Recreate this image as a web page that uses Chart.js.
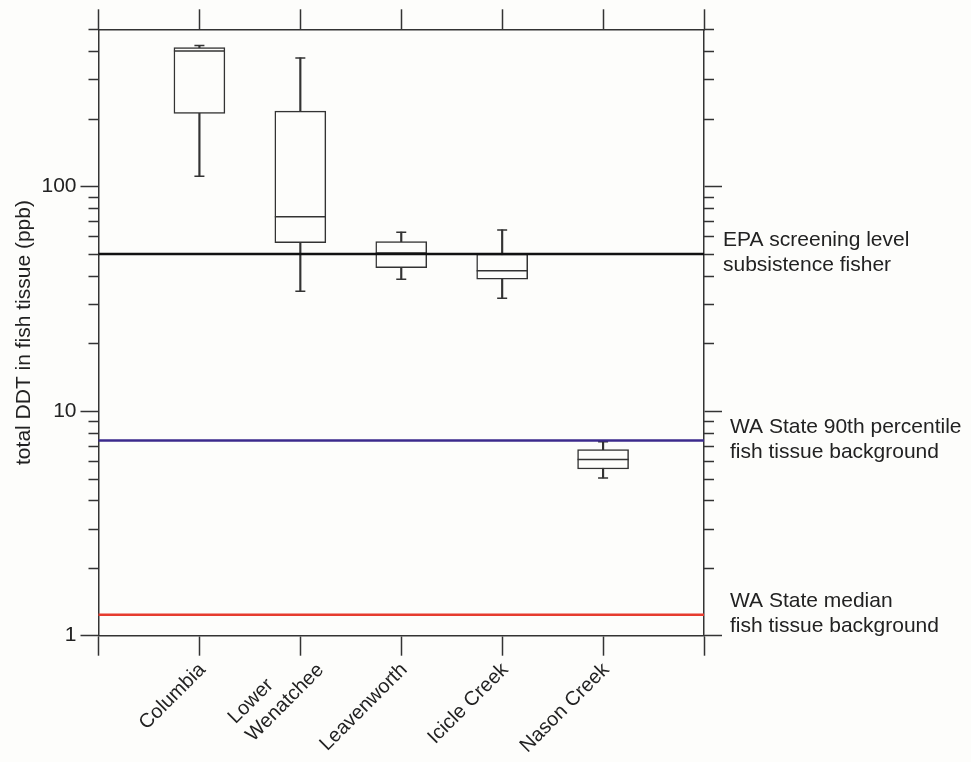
<!DOCTYPE html>
<html>
<head>
<meta charset="utf-8">
<script src="https://cdn.jsdelivr.net/npm/chart.js@4.4.0/dist/chart.umd.min.js"></script>
<style>
  html, body { margin: 0; padding: 0; background: #fdfdfb; }
  #wrap { width: 971px; height: 762px; }
</style>
</head>
<body>
<div id="wrap"><canvas id="ddtChart" width="971" height="762"></canvas></div>
<script>
// sites and box-plot values (ppb)
const categories = ['Columbia', ['Lower', 'Wenatchee'], 'Leavenworth', 'Icicle Creek', 'Nason Creek'];
const whiskerLow  = [111, 34.1, 38.6, 31.8, 5.04];
const boxLow      = [211, 56.2, 43.4, 38.6, 5.52];
const medians     = [400, 73.3, 50.5, 42.1, 6.08];
const boxHigh     = [415, 216, 56.8, 50.0, 6.74];
const whiskerHigh = [423, 373, 62.5, 64.0, 7.30];

// reference levels
const refValues = [50, 7.4, 1.24];
const refLabels = [
	['EPA screening level', 'subsistence fisher'],
	['WA State 90th percentile', 'fish tissue background'],
	['WA State median', 'fish tissue background']
];
const refColors = ['#111111', '#3b2a8c', '#e63b2e'];

// log axis ticks
const yTickValues = [1, 2, 3, 4, 5, 6, 7, 8, 9, 10, 20, 30, 40, 50, 60, 70, 80, 90, 100, 200, 300, 400, 500];
const yMajorTicks = [1, 10, 100];

const ink = '#333333';
const textColor = '#222222';
const bg = '#fdfdfb';
const fontFamily = "'Liberation Sans', Arial, sans-serif";
const fontSize = 21;
const catFontSize = 20;
const refIndent = [19, 26, 26];

// empty slot on each side of the sites
const labels = ['', ...categories, ''];
const pad = arr => [null, ...arr, null];

const frameTicks = {
	id: 'frameTicks',
	afterDraw(chart) {
		const {ctx, chartArea, scales} = chart;
		ctx.save();
		ctx.strokeStyle = ink;
		ctx.lineWidth = 1.5;
		// short minor ticks on both log axes
		yTickValues.filter(v => !yMajorTicks.includes(v)).forEach(v => {
			const y = Math.round(scales.y.getPixelForValue(v)) + 0.5;
			ctx.beginPath();
			ctx.moveTo(chartArea.left - 10, y);
			ctx.lineTo(chartArea.left, y);
			ctx.moveTo(chartArea.right, y);
			ctx.lineTo(chartArea.right + 10, y);
			ctx.stroke();
		});

		// reference line notes on the right
		ctx.fillStyle = textColor;
		ctx.font = fontSize + 'px ' + fontFamily;
		ctx.textBaseline = 'middle';
		ctx.textAlign = 'left';
		refValues.forEach((v, i) => {
			const y = scales.y.getPixelForValue(v);
			const lines = refLabels[i];
			lines.forEach((t, j) => {
				ctx.fillText(t, chartArea.right + refIndent[i], y - 1 + (j - (lines.length - 1) / 2) * 25);
			});
		});

		// rotated site names, lines of a block start together
		ctx.font = catFontSize + 'px ' + fontFamily;
		categories.forEach((c, i) => {
			const lines = Array.isArray(c) ? c : [c];
			const w = Math.max(...lines.map(t => ctx.measureText(t).width));
			const px = scales.x.getPixelForTick(i + 1);
			ctx.save();
			ctx.translate(px + 3, chartArea.bottom + 31);
			ctx.rotate(-Math.PI / 4);
			ctx.textAlign = 'left';
			lines.forEach((t, j) => {
				ctx.fillText(t, -w + (lines.length > 1 ? 12 : 0), (j - (lines.length - 1) / 2) * 25);
			});
			ctx.restore();
		});
		ctx.restore();
	}
};

function yAxis(position, width) {
	return {
		type: 'logarithmic',
		position: position,
		min: 1,
		max: 500,
		afterBuildTicks: s => { s.ticks = yTickValues.map(v => ({value: v})); },
		afterFit: s => { s.width = width; },
		border: {color: ink, width: 1.5},
		grid: {
			drawOnChartArea: false,
			tickLength: 18,
			tickWidth: 1.5,
			tickColor: c => (c.tick && yMajorTicks.includes(c.tick.value)) ? ink : 'rgba(0,0,0,0)'
		},
		ticks: {
			display: position === 'left',
			autoSkip: false,
			padding: 4,
			color: textColor,
			font: {family: fontFamily, size: fontSize},
			callback: v => yMajorTicks.includes(v) ? String(v) : ''
		}
	};
}

function xAxis(position, height) {
	return {
		type: 'category',
		position: position,
		offset: false,
		afterFit: s => { s.height = height; },
		border: {color: ink, width: 1.5},
		grid: {offset: false, drawOnChartArea: false, tickLength: 20, tickWidth: 1.5, tickColor: ink},
		ticks: {display: false, autoSkip: false}
	};
}

const datasets = [
	{
		label: 'whiskers',
		data: pad(whiskerLow.map((v, i) => [v, whiskerHigh[i]])),
		backgroundColor: ink,
		barThickness: 1.5,
		grouped: false,
		order: 4
	},
	{
		label: 'boxes',
		data: pad(boxLow.map((v, i) => [v, boxHigh[i]])),
		backgroundColor: bg,
		borderColor: ink,
		borderWidth: 1.5,
		borderSkipped: false,
		barThickness: 51,
		grouped: false,
		order: 3
	},
	{
		type: 'line', label: 'median', data: pad(medians), showLine: false,
		pointStyle: 'line', pointRadius: 25.5, pointBorderWidth: 1.5, pointBorderColor: ink, order: 2
	},
	{
		type: 'line', label: 'low cap', data: pad(whiskerLow), showLine: false,
		pointStyle: 'line', pointRadius: 5, pointBorderWidth: 1.5, pointBorderColor: ink, order: 2
	},
	{
		type: 'line', label: 'high cap', data: pad(whiskerHigh), showLine: false,
		pointStyle: 'line', pointRadius: 5, pointBorderWidth: 1.5, pointBorderColor: ink, order: 2
	}
];

refValues.forEach((v, i) => {
	datasets.push({
		type: 'line',
		label: refLabels[i].join(' '),
		data: labels.map(() => v),
		borderColor: refColors[i],
		borderWidth: 2.5,
		pointRadius: 0,
		order: 0
	});
});

new Chart(document.getElementById('ddtChart'), {
	type: 'bar',
	data: {labels: labels, datasets: datasets},
	options: {
		responsive: false,
		animation: false,
		layout: {padding: 0},
		plugins: {legend: {display: false}, tooltip: {enabled: false}},
		scales: {
			x: xAxis('bottom', 126.3),
			x2: xAxis('top', 29.3),
			y: Object.assign(yAxis('left', 98.5), {
				title: {
					display: true,
					text: 'total DDT in fish tissue (ppb)',
					color: textColor,
					font: {family: fontFamily, size: fontSize},
					padding: {top: 12, bottom: 0}
				}
			}),
			y2: yAxis('right', 267)
		}
	},
	plugins: [frameTicks]
});
</script>
</body>
</html>
